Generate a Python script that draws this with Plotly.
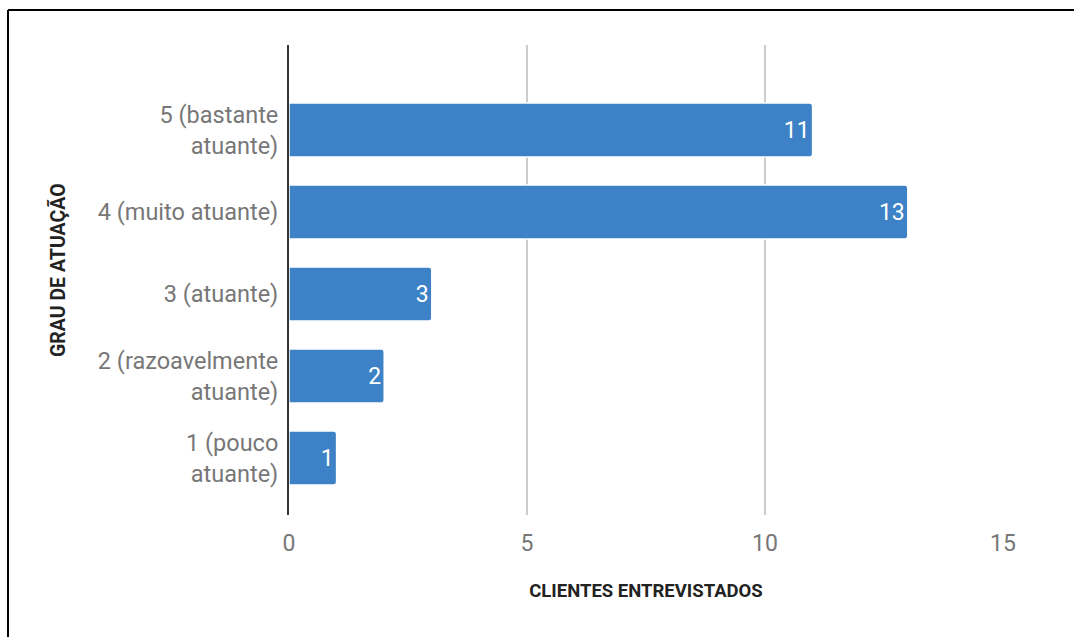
import plotly.graph_objects as go

# Survey results: number of interviewed clients per performance level
niveis = [1, 2, 3, 4, 5]
rotulos = [
    "1 (pouco<br>atuante)",
    "2 (razoavelmente<br>atuante)",
    "3 (atuante)",
    "4 (muito atuante)",
    "5 (bastante<br>atuante)",
]
clientes = [1, 2, 3, 13, 11]
x_ticks = [0, 5, 10, 15]

W, H = 1074, 637
ML, MR, MT, MB = 289, 71, 45, 122

cor_barra = "#3d82c6"
cor_texto = "#777777"

fig = go.Figure(
    go.Bar(
        x=clientes,
        y=niveis,
        orientation="h",
        width=0.66,
        marker=dict(color=cor_barra, line=dict(color="white", width=1.5)),
        text=[str(v) for v in clientes],
        textposition="inside",
        insidetextanchor="end",
        textfont=dict(family="Roboto", size=23, color="white"),
        hoverinfo="skip",
    )
)

fig.update_layout(
    width=W,
    height=H,
    margin=dict(l=ML, r=MR, t=MT, b=MB),
    paper_bgcolor="white",
    plot_bgcolor="white",
    barcornerradius=3,
    showlegend=False,
    font=dict(family="Roboto", color=cor_texto),
    xaxis=dict(
        range=[0, 15],
        tickvals=x_ticks,
        ticktext=[str(t) for t in x_ticks],
        showgrid=True,
        gridcolor="#cccccc",
        gridwidth=1.5,
        zeroline=False,
        showline=False,
        ticks="",
        ticklabelstandoff=12,
        tickfont=dict(family="Roboto", size=23, color=cor_texto),
        title=dict(
            text="<b>CLIENTES ENTREVISTADOS</b>",
            font=dict(family="Roboto", size=18.5, color="#222222"),
            standoff=28,
        ),
    ),
    yaxis=dict(
        range=[0.305, 6.037],
        tickvals=niveis,
        ticktext=rotulos,
        showgrid=False,
        zeroline=False,
        showline=True,
        linecolor="#333333",
        linewidth=2,
        ticks="",
        ticklabelstandoff=4,
        tickfont=dict(family="Roboto", size=23.5, color=cor_texto),
    ),
    annotations=[
        dict(
            text="<b>GRAU DE ATUAÇÃO</b>",
            textangle=-90,
            xref="paper",
            yref="paper",
            x=(58 - ML) / (W - ML - MR),
            y=(H - MB - 270) / (H - MT - MB),
            xanchor="center",
            yanchor="middle",
            showarrow=False,
            font=dict(family="Roboto", size=19.5, color="#222222"),
        )
    ],
)

# Page frame: top and left borders
pw, ph = W - ML - MR, H - MT - MB
fig.add_shape(
    type="line", xref="paper", yref="paper",
    x0=(8 - ML) / pw, x1=(W + 5 - ML) / pw,
    y0=(H - MB - 10) / ph, y1=(H - MB - 10) / ph,
    line=dict(color="black", width=2),
)
fig.add_shape(
    type="line", xref="paper", yref="paper",
    x0=(8 - ML) / pw, x1=(8 - ML) / pw,
    y0=(H - MB - 10) / ph, y1=(H - MB - H - 5) / ph,
    line=dict(color="black", width=2),
)

fig.write_html("out.html")
